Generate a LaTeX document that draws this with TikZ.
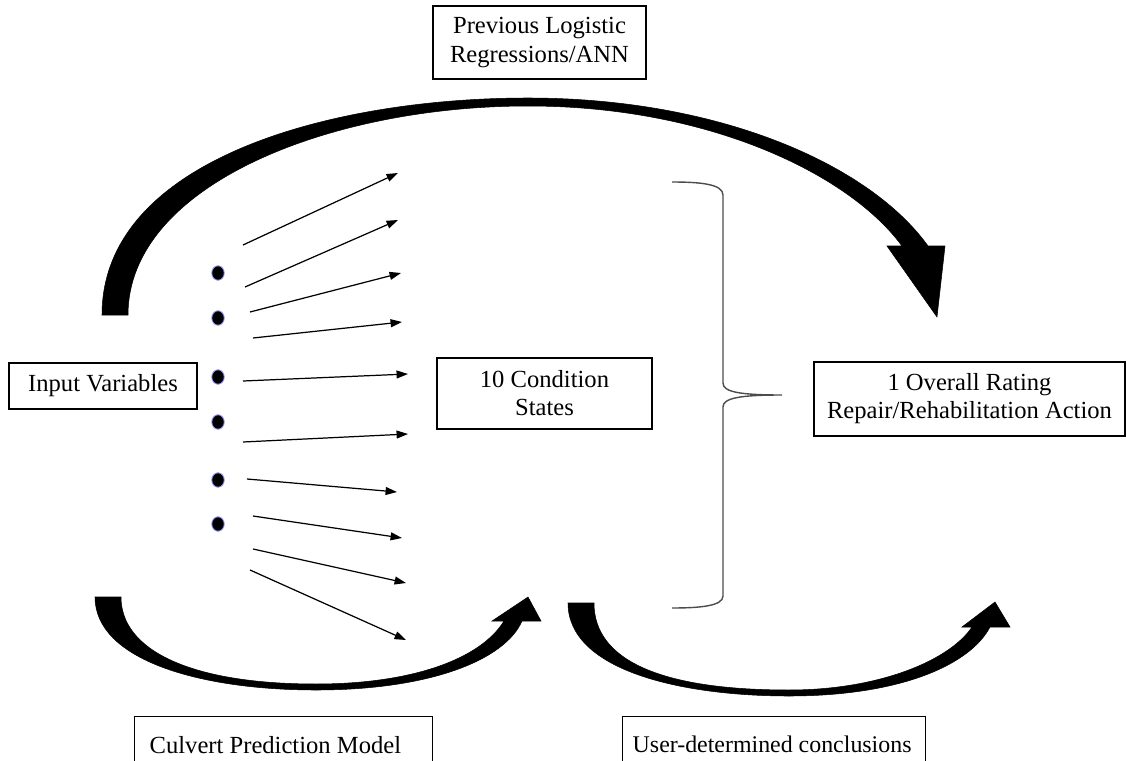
\documentclass[tikz,border=0pt]{standalone}
\usepackage{fontspec}
\setmainfont{Liberation Serif}
\usepackage{tikz}
\usetikzlibrary{arrows.meta, positioning, calc, shapes.geometric}

\tikzset{
    labelbox/.style={draw, line width=0.8pt, align=center, inner sep=2pt,
        font=\fontsize{14pt}{16pt}\selectfont},
    sidebox/.style={labelbox, anchor=north west, align=left, inner xsep=0.3cm},
    inputdot/.style={ellipse, fill=black, draw=blue!40, line width=0.5pt,
        minimum width=0.25cm, minimum height=0.29cm, inner sep=0pt},
    feed/.style={line width=0.7pt, -{Triangle[length=6.5pt, width=4.5pt]}},
    bigarrow/.style={fill=black, draw=black, line width=0.3pt},
}

\begin{document}
\begin{tikzpicture}[x=0.02cm, y=-0.02cm]
    \useasboundingbox (0,0) rectangle (1127,761);

    % Boxes
    \node[labelbox, minimum width=4.26cm, minimum height=1.46cm] (prev) at (539.5,42.5)
        {Previous Logistic\\Regressions/ANN};
    \node[labelbox, minimum width=3.76cm, minimum height=0.92cm] (input) at (103,386)
        {Input Variables};
    \node[labelbox, minimum width=4.30cm, minimum height=1.42cm] (states) at (544.5,393.5)
        {10 Condition\\States};
    \node[labelbox, minimum width=6.22cm, minimum height=1.48cm] (rating) at (969.5,399)
        {1 Overall Rating\\Repair/Rehabilitation Action};
    \node[sidebox, minimum height=1.12cm] (culvert) at (134,716)
        {\makebox[5.36cm][l]{Culvert Prediction Model}};
    \node[sidebox, inner xsep=0.2cm, minimum height=1.12cm] (user) at (622,716)
        {\makebox[5.66cm][l]{\fontsize{13.6pt}{16pt}\selectfont User-determined conclusions}};

    % Input dots
    \foreach \n/\y in {1/273, 2/318, 3/377, 4/422, 5/480, 6/524} {
        \node[inputdot] (d\n) at (218,\y) {};
    }

    % Feed arrows
    \foreach \n/\sx/\sy/\ex/\ey in {1/243/245/398/173, 2/245/287/398/220,
        3/250/312/401/273, 4/253/338/402/322, 5/243/381/408/374,
        6/243/442/408/434, 7/247/479/397/492, 8/253/516/402/538,
        9/253/549/406/583, 10/250/570/406/640} {
        \coordinate (s\n) at (\sx,\sy);
        \coordinate (e\n) at (\ex,\ey);
        \draw[feed] (s\n) -- (e\n);
    }

    % Brace
    \draw[gray!60!black, line width=0.8pt]
        (672,182) .. controls (700,182) and (723,184) .. (723,195) -- (723,383)
        .. controls (723,392) and (740,395) .. (782,395)
        .. controls (740,395) and (723,398) .. (723,407) -- (723,596)
        .. controls (723,606) and (700,608) .. (672,608);

    % Top curved arrow
    \fill[bigarrow] (102,315) .. controls (102,160) and (330,98) .. (528,98)
        .. controls (720,98) and (870,165) .. (928,246)
        -- (945,246) -- (937,317) -- (887,246) -- (902,246)
        .. controls (850,175) and (710,106) .. (528,106)
        .. controls (330,106) and (128,185) .. (128,315) -- cycle;

    % Bottom left curved arrow
    \fill[bigarrow] (95,597) .. controls (95,660) and (200,690) .. (316,690)
        .. controls (430,690) and (505,660) .. (522,621)
        -- (541,621) -- (528,597) -- (492,621) -- (504,621)
        .. controls (480,660) and (410,684) .. (316,684)
        .. controls (190,684) and (121,650) .. (121,597) -- cycle;

    % Bottom right curved arrow
    \fill[bigarrow] (568,603) .. controls (568,670) and (680,696) .. (789,696)
        .. controls (900,696) and (970,665) .. (990,627)
        -- (1010,627) -- (995,602) -- (962,627) -- (972,627)
        .. controls (950,660) and (880,690) .. (789,690)
        .. controls (660,690) and (594,660) .. (594,603) -- cycle;
\end{tikzpicture}
\end{document}
